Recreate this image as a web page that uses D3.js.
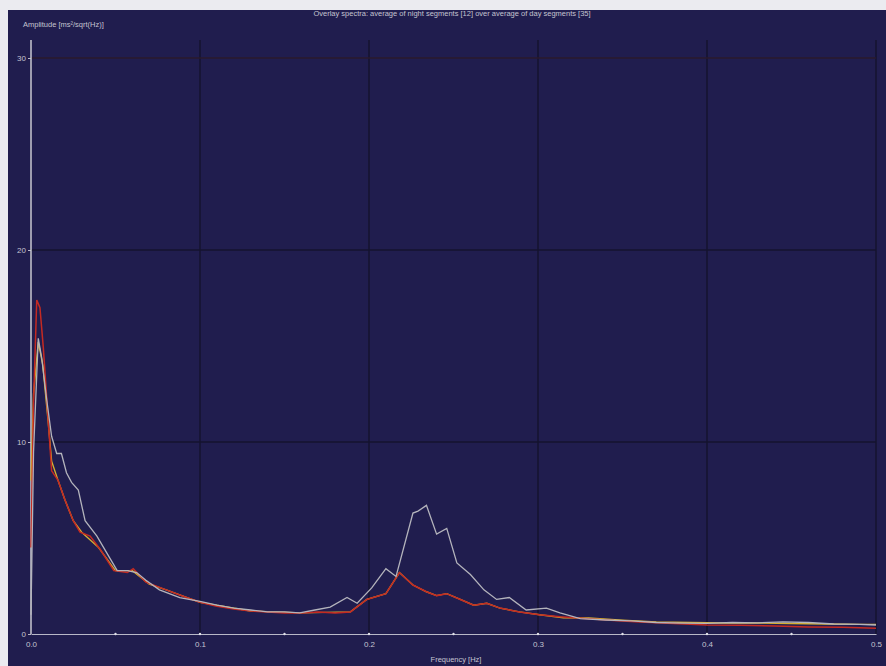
<!DOCTYPE html>
<meta charset="utf-8">
<title>Overlay spectra</title>
<style>
    body { margin: 0; background: #ebebf0; }
    text { font-family: "Liberation Sans", Arial, sans-serif; fill: #c4c4d0; }
</style>
<body>
<div id="chart"></div>
<script src="https://d3js.org/d3.v7.min.js"></script>
<script>

    // night segments (grey line)
    var nightFreq = [0, 0.0015, 0.0043, 0.0063, 0.0093, 0.0122, 0.0152, 0.018, 0.021, 0.024, 0.028, 0.032,
        0.039, 0.045, 0.051, 0.057, 0.0625, 0.068, 0.076, 0.088, 0.1, 0.11, 0.12, 0.13, 0.14, 0.15, 0.159,
        0.168, 0.177, 0.187, 0.193, 0.2016, 0.21, 0.216, 0.226, 0.229, 0.234, 0.24, 0.246, 0.252, 0.26, 0.268,
        0.2755, 0.283, 0.293, 0.305, 0.313, 0.325, 0.34, 0.355, 0.37, 0.385, 0.4, 0.415, 0.43, 0.445, 0.46,
        0.475, 0.49, 0.5];
    var nightAmp = [1.0, 9.5, 15.4, 14.4, 12.2, 10.3, 9.4, 9.4, 8.4, 7.9, 7.5, 5.9,
        5.1, 4.2, 3.3, 3.3, 3.2, 2.8, 2.3, 1.9, 1.7, 1.5, 1.35, 1.25, 1.15, 1.15, 1.1,
        1.25, 1.4, 1.9, 1.6, 2.4, 3.4, 3.0, 6.3, 6.4, 6.7, 5.2, 5.5, 3.7, 3.1, 2.3,
        1.8, 1.9, 1.25, 1.35, 1.1, 0.8, 0.73, 0.68, 0.6, 0.57, 0.55, 0.6, 0.58, 0.63, 0.6,
        0.52, 0.5, 0.47];

    // day segments (red line)
    var dayFreq = [0, 0.0015, 0.0034, 0.0053, 0.0073, 0.0102, 0.0122, 0.016, 0.02, 0.025, 0.029, 0.035,
        0.041, 0.049, 0.057, 0.0605, 0.068, 0.08, 0.092, 0.1, 0.11, 0.12, 0.13, 0.14, 0.15, 0.16, 0.17,
        0.18, 0.189, 0.1987, 0.21, 0.218, 0.226, 0.234, 0.24, 0.246, 0.254, 0.262, 0.2697, 0.2775, 0.289,
        0.301, 0.313, 0.33, 0.345, 0.36, 0.38, 0.4, 0.42, 0.44, 0.46, 0.48, 0.5];
    var dayAmp = [4.5, 12.0, 17.4, 17.0, 14.9, 11.1, 8.5, 8.0, 7.0, 5.9, 5.3, 5.1,
        4.4, 3.3, 3.2, 3.4, 2.7, 2.3, 1.9, 1.65, 1.45, 1.3, 1.2, 1.15, 1.1, 1.1, 1.15,
        1.1, 1.15, 1.8, 2.1, 3.2, 2.55, 2.2, 2.0, 2.1, 1.8, 1.5, 1.6, 1.35, 1.15,
        1.0, 0.9, 0.8, 0.7, 0.63, 0.55, 0.47, 0.45, 0.42, 0.37, 0.35, 0.3];

    // third overlay trace (yellow line)
    var mixFreq = [0, 0.0015, 0.0043, 0.007, 0.0102, 0.0122, 0.016, 0.02, 0.025, 0.03, 0.04, 0.05, 0.06,
        0.07, 0.08, 0.1, 0.13, 0.16, 0.189, 0.1987, 0.21, 0.218, 0.226, 0.234, 0.24, 0.246, 0.254, 0.262,
        0.2697, 0.2775, 0.289, 0.301, 0.315, 0.33, 0.35, 0.37, 0.39, 0.41, 0.43, 0.45, 0.47, 0.49, 0.5];
    var mixAmp = [8.0, 12.5, 15.2, 14.0, 11.0, 9.0, 8.0, 7.0, 5.9, 5.3, 4.5, 3.3, 3.3,
        2.6, 2.3, 1.65, 1.2, 1.1, 1.15, 1.8, 2.1, 3.2, 2.55, 2.2, 2.0, 2.1, 1.8, 1.5,
        1.6, 1.35, 1.15, 1.0, 0.85, 0.83, 0.72, 0.63, 0.6, 0.57, 0.57, 0.55, 0.52, 0.5, 0.5];

    var xTicks = [0, 0.1, 0.2, 0.3, 0.4, 0.5];
    var xMinorTicks = [0.05, 0.15, 0.25, 0.35, 0.45];
    var yTicks = [0, 10, 20, 30];

    var width = 886, height = 666;

    var x = d3.scaleLinear().domain([0, 0.5]).range([31, 876]);
    var y = d3.scaleLinear().domain([0, 30]).range([634, 58]);

    var svg = d3.select("#chart")
        .append("svg")
        .attr("width", width)
        .attr("height", height)
        .style("display", "block");

    // dark plot panel
    svg.append("rect")
        .attr("x", 8)
        .attr("y", 10)
        .attr("width", width - 8)
        .attr("height", height - 10)
        .attr("fill", "#201d4e");

    // grid
    svg.append("g")
        .selectAll("line")
        .data(xTicks.slice(1))
        .join("line")
        .attr("x1", d => x(d)).attr("x2", d => x(d))
        .attr("y1", 40).attr("y2", y(0))
        .attr("stroke", "#15132f")
        .attr("stroke-width", 1.5);

    svg.append("g")
        .selectAll("line")
        .data(yTicks.slice(1))
        .join("line")
        .attr("x1", x(0)).attr("x2", x(0.5))
        .attr("y1", d => y(d)).attr("y2", d => y(d))
        .attr("stroke", d => d === 30 ? "#2a1a2c" : "#15132f")
        .attr("stroke-width", 1.5);

    // axes
    var xAxis = svg.append("g")
        .attr("transform", "translate(0," + y(0) + ")")
        .call(d3.axisBottom(x).tickValues(xTicks).tickSize(0).tickPadding(7)
            .tickFormat(d3.format(".1f")));
    xAxis.select(".domain").attr("stroke", "#b8b8c8").attr("stroke-width", 1.2);
    xAxis.selectAll("text").attr("font-size", "8px").attr("fill", "#c8c8d4");

    svg.append("g")
        .selectAll("circle")
        .data(xMinorTicks.concat(xTicks.slice(1, 5)))
        .join("circle")
        .attr("cx", d => x(d))
        .attr("cy", y(0))
        .attr("r", 1.2)
        .attr("fill", "#e0e0ea");

    var yAxis = svg.append("g")
        .attr("transform", "translate(" + x(0) + ",0)")
        .call(d3.axisLeft(y).tickValues(yTicks).tickSize(3).tickPadding(2));
    yAxis.select(".domain").remove();
    yAxis.selectAll(".tick line").attr("stroke", "#b8b8c8");
    yAxis.selectAll("text").attr("font-size", "8px").attr("fill", "#c8c8d4");

    svg.append("line")
        .attr("x1", x(0)).attr("x2", x(0))
        .attr("y1", 40).attr("y2", y(0))
        .attr("stroke", "#c8c8d2")
        .attr("stroke-width", 1.5);

    // spectra
    function series(freq, amp) {
        return freq.map(function (f, i) { return { f: f, a: amp[i] }; });
    }
    var line = d3.line()
        .x(d => x(d.f))
        .y(d => y(d.a));

    svg.append("path")
        .datum(series(mixFreq, mixAmp))
        .attr("fill", "none")
        .attr("stroke", "#d6b032")
        .attr("stroke-width", 1.4)
        .attr("d", line);

    svg.append("path")
        .datum(series(dayFreq, dayAmp))
        .attr("fill", "none")
        .attr("stroke", "#c42a22")
        .attr("stroke-width", 1.5)
        .attr("d", line);

    svg.append("path")
        .datum(series(nightFreq, nightAmp))
        .attr("fill", "none")
        .attr("stroke", "#b4b4bc")
        .attr("stroke-width", 1.3)
        .attr("d", line);

    // texts
    svg.append("text")
        .attr("x", 452)
        .attr("y", 16)
        .attr("text-anchor", "middle")
        .attr("font-size", "7.5px")
        .text("Overlay spectra: average of night segments [12] over average of day segments [35]");

    svg.append("text")
        .attr("x", 23)
        .attr("y", 27)
        .attr("font-size", "7.5px")
        .text("Amplitude [ms²/sqrt(Hz)]");

    svg.append("text")
        .attr("x", 456)
        .attr("y", 662)
        .attr("text-anchor", "middle")
        .attr("font-size", "7.5px")
        .text("Frequency [Hz]");

</script>
</body>
